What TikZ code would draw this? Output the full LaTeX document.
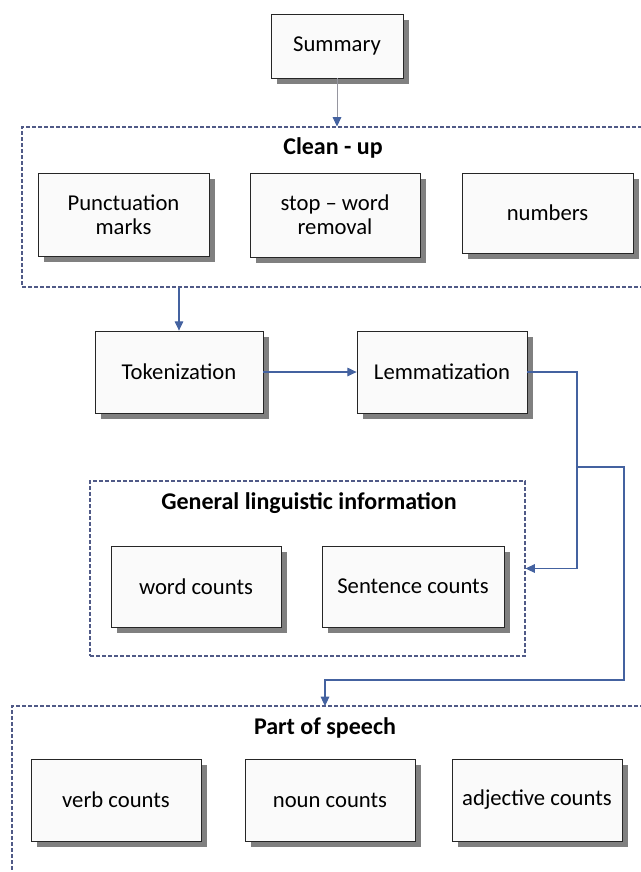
\documentclass[tikz,border=0pt]{standalone}
\usepackage{fontspec}
\setmainfont{Carlito}
\usetikzlibrary{arrows.meta,shadows}
\definecolor{cflow}{RGB}{68,98,160}
\definecolor{cgroup}{RGB}{80,90,135}
\definecolor{cfeed}{RGB}{150,150,160}
\definecolor{cbox}{RGB}{250,250,250}
\tikzset{
  procbox/.style={draw=black!85, line width=0.6pt, fill=cbox, align=center,
    font=\fontsize{17}{18}\selectfont, inner sep=2pt,
    drop shadow={shadow xshift=4.5pt, shadow yshift=-4.5pt, fill=black!50, opacity=1}},
  groupbox/.style={draw=cgroup, line width=0.8pt, dash pattern=on 3pt off 1.5pt, inner sep=0pt},
  grouptitle/.style={font=\fontsize{18}{20}\selectfont\bfseries, inner sep=0pt},
  flow/.style={draw=cflow, line width=0.8pt, -{Triangle[length=7pt,width=6.5pt]}},
  feed/.style={draw=cfeed, line width=0.6pt, -{Triangle[length=7pt,width=6.5pt,color=cflow]}}
}

\begin{document}
\begin{tikzpicture}[x=0.75pt,y=-0.75pt]
\useasboundingbox (0,0) rectangle (641,872);
\clip (0,0) rectangle (641,872);

% groups
\node[groupbox, minimum width=638*0.75pt, minimum height=160*0.75pt] (cleanup) at (341,207) {};
\node[groupbox, minimum width=435*0.75pt, minimum height=175*0.75pt] (general) at (307.5,568.5) {};
\node[groupbox, minimum width=648*0.75pt, minimum height=194*0.75pt] (pos) at (336,803) {};

\node[grouptitle] (cleanupt) at (333,148) {Clean - up};
\node[grouptitle] (generalt) at (309,503) {General linguistic information};
\node[grouptitle] (post) at (325,728) {Part of speech};

% boxes
\node[procbox, minimum width=132*0.75pt, minimum height=64*0.75pt] (summary) at (337,46) {Summary};

\node[procbox, minimum width=171*0.75pt, minimum height=83*0.75pt] (punct) at (123.5,214.5) {Punctuation\\marks};
\node[procbox, minimum width=170*0.75pt, minimum height=84*0.75pt] (stopw) at (335,215) {stop -- word\\removal};
\node[procbox, minimum width=171*0.75pt, minimum height=80*0.75pt] (numbers) at (547.5,213) {numbers};

\node[procbox, minimum width=168*0.75pt, minimum height=82*0.75pt] (token) at (179,372) {Tokenization};
\node[procbox, minimum width=170*0.75pt, minimum height=82*0.75pt] (lemma) at (442,372) {Lemmatization};

\node[procbox, minimum width=170*0.75pt, minimum height=81*0.75pt] (wordc) at (196,586.5) {word counts};
\node[procbox, minimum width=182*0.75pt, minimum height=81*0.75pt] (sentc) at (413,586.5) {Sentence counts};

\node[procbox, minimum width=170*0.75pt, minimum height=82*0.75pt] (verbc) at (116,800) {verb counts};
\node[procbox, minimum width=170*0.75pt, minimum height=82*0.75pt] (nounc) at (330,800) {noun counts};
\node[procbox, minimum width=170*0.75pt, minimum height=82*0.75pt] (adjc) at (537,800) {adjective counts};

% connectors
\coordinate (split) at (577,467);
\coordinate (bend) at (624,680);
\coordinate (posin) at (325,706);

\draw[feed] (summary.south) -- (summary.south |- cleanup.north);
\draw[flow] (token.north |- cleanup.south) -- (token.north);
\draw[flow] (token) -- (lemma);
\draw[flow] (lemma.east) -| (split) |- (general.east);
\draw[flow] (split) -| (bend) -| (posin);

\end{tikzpicture}
\end{document}
